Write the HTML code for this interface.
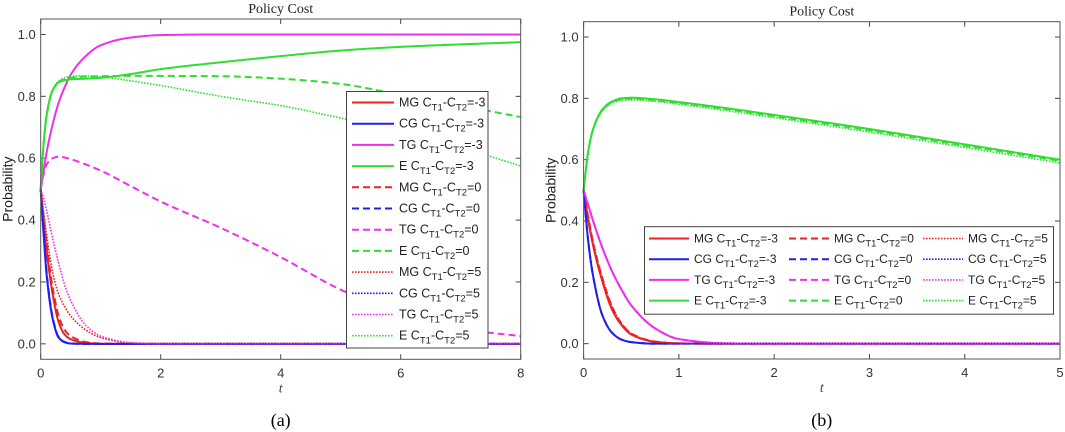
<!DOCTYPE html>
<html><head><meta charset="utf-8">
<style>
html,body{margin:0;padding:0;background:#fff;}
svg{display:block;font-family:"Liberation Sans",sans-serif;}
.tk{font-size:13px;fill:#333;}
.ttl{font-family:"Liberation Serif",serif;font-size:14px;fill:#222;}
.lg{font-size:12.5px;fill:#222;}
.lgb{font-size:12px;fill:#222;}
</style></head><body>
<svg id="chart" width="1065" height="432" viewBox="0 0 1065 432"></svg>
<script>
// Panel (a) data
const tA = [0,0.05,0.1,0.2,0.3,0.4,0.5,0.75,1,1.5,2,3,4,5,6,7,8];
const aMGm3 = [0.5,0.4,0.3,0.16,0.07,0.03,0.015,0.003,0,0,0,0,0,0,0,0,0];
const aCGm3 = [0.5,0.35,0.22,0.08,0.02,0.005,0.001,0,0,0,0,0,0,0,0,0,0];
const aTGm3 = [0.5,0.56,0.62,0.71,0.78,0.83,0.87,0.93,0.965,0.99,0.998,1,1,1,1,1,1];
const aEm3 = [0.5,0.65,0.74,0.82,0.845,0.852,0.855,0.857,0.86,0.872,0.888,0.91,0.93,0.948,0.96,0.968,0.975];
const aMG0 = [0.5,0.41,0.32,0.18,0.09,0.045,0.025,0.006,0.001,0,0,0,0,0,0,0,0];
const aCG0 = [0.5,0.36,0.23,0.085,0.022,0.006,0.001,0,0,0,0,0,0,0,0,0,0];
const aTG0 = [0.5,0.55,0.58,0.6,0.605,0.602,0.597,0.58,0.56,0.51,0.46,0.375,0.28,0.175,0.095,0.048,0.025];
const aE0 = [0.5,0.65,0.74,0.82,0.845,0.855,0.86,0.864,0.865,0.866,0.866,0.865,0.857,0.84,0.805,0.77,0.733];
const aMG5 = [0.5,0.42,0.35,0.23,0.16,0.12,0.09,0.045,0.02,0.003,0,0,0,0,0,0,0];
const aCG5 = [0.5,0.36,0.23,0.085,0.022,0.006,0.001,0,0,0,0,0,0,0,0,0,0];
const aTG5 = [0.5,0.47,0.43,0.34,0.26,0.19,0.14,0.06,0.025,0.004,0,0,0,0,0,0,0];
const aE5 = [0.5,0.65,0.74,0.82,0.85,0.86,0.865,0.866,0.863,0.85,0.835,0.8,0.77,0.73,0.69,0.635,0.575];
// Panel (b) data
const tB = [0,0.05,0.1,0.2,0.3,0.4,0.5,0.75,1,1.5,2,3,4,5];
const bMGm3 = [0.5,0.4,0.32,0.2,0.11,0.06,0.03,0.006,0.001,0,0,0,0,0];
const bCGm3 = [0.5,0.33,0.22,0.09,0.035,0.013,0.005,0,0,0,0,0,0,0];
const bTGm3 = [0.5,0.45,0.4,0.31,0.235,0.175,0.125,0.05,0.015,0.001,0,0,0,0];
const bEm3 = [0.5,0.63,0.7,0.765,0.79,0.8,0.802,0.797,0.788,0.768,0.746,0.70,0.65,0.60];
const bMG0 = [0.5,0.41,0.33,0.21,0.12,0.065,0.033,0.007,0.001,0,0,0,0,0];
const bCG0 = [0.5,0.33,0.22,0.09,0.035,0.013,0.005,0,0,0,0,0,0,0];
const bTG0 = [0.5,0.45,0.4,0.31,0.235,0.175,0.125,0.05,0.015,0.001,0,0,0,0];
const bE0 = [0.5,0.63,0.7,0.763,0.788,0.797,0.799,0.794,0.785,0.765,0.742,0.696,0.646,0.596];
const bMG5 = [0.5,0.41,0.33,0.21,0.12,0.065,0.033,0.007,0.001,0,0,0,0,0];
const bCG5 = [0.5,0.33,0.22,0.09,0.035,0.013,0.005,0,0,0,0,0,0,0];
const bTG5 = [0.5,0.45,0.4,0.31,0.235,0.175,0.125,0.05,0.015,0.001,0,0,0,0];
const bE5 = [0.5,0.63,0.7,0.76,0.785,0.793,0.795,0.79,0.781,0.76,0.737,0.69,0.64,0.589];
const yTicks = ["0.0","0.2","0.4","0.6","0.8","1.0"];
const xTicksA = ["0","2","4","6","8"];
const xTicksB = ["0","1","2","3","4","5"];
const seriesNames = ["MG","CG","TG","E"];
const costLabels = ["-3","0","5"];

const NS="http://www.w3.org/2000/svg";
const svg=document.getElementById('chart');
const COL={MG:"#ee2020",CG:"#2020ee",TG:"#ee30ee",E:"#30dd30"};
const DASH=[null,"7,4","1.6,1.4"];
const WID=[2,2,1.6];
function mk(tag,attrs,parent){const e=document.createElementNS(NS,tag);for(const k in attrs)e.setAttribute(k,attrs[k]);(parent||svg).appendChild(e);return e;}
// monotone cubic (Fritsch-Carlson) interpolation
function monotone(xs,ys){
  const n=xs.length,d=[],m=new Array(n);
  for(let i=0;i<n-1;i++)d.push((ys[i+1]-ys[i])/(xs[i+1]-xs[i]));
  m[0]=d[0];m[n-1]=d[n-2];
  for(let i=1;i<n-1;i++){
    if(d[i-1]*d[i]<=0)m[i]=0;
    else{const h0=xs[i]-xs[i-1],h1=xs[i+1]-xs[i];const w1=2*h1+h0,w2=h1+2*h0;m[i]=(w1+w2)/(w1/d[i-1]+w2/d[i]);}
  }
  return function(x){
    let i=0;while(i<n-2&&x>xs[i+1])i++;
    const h=xs[i+1]-xs[i],t=(x-xs[i])/h,t2=t*t,t3=t2*t;
    return (2*t3-3*t2+1)*ys[i]+(t3-2*t2+t)*h*m[i]+(-2*t3+3*t2)*ys[i+1]+(t3-t2)*h*m[i+1];
  };
}
function legendText(g,x,y,name,cost,cls){
  const t=mk('text',{x:x,y:y,class:cls},g);
  
  
  const parts=[[name+" C",0],["T1",1],["-C",0],["T2",1],["="+cost,0]];
  parts.forEach(p=>{const s=mk('tspan',{},t);s.textContent=p[0];
    if(p[1]){s.setAttribute('font-size','9.5');s.setAttribute('dy','4');}
    else if(s.previousSibling&&s.previousSibling.getAttribute('dy')==='4'){s.setAttribute('dy','-4');}
  });
}
function panel(cfg){
  const g=mk('g',{});
  
  
  const X=v=>cfg.x0+(v-cfg.xmin)/(cfg.xmax-cfg.xmin)*(cfg.x1-cfg.x0);
  const Y=v=>cfg.yb-(v+0.05)/1.1*(cfg.yb-cfg.yt);
  const bg=mk('rect',{x:cfg.x0,y:cfg.yt,width:cfg.x1-cfg.x0,height:cfg.yb-cfg.yt,fill:'#fff',stroke:'none'},g);
  
  yTicks.forEach(s=>{const v=parseFloat(s),y=Y(v);
    mk('line',{x1:cfg.x0,x2:cfg.x0+5,y1:y,y2:y,stroke:'#444','stroke-width':1},g);
    mk('line',{x1:cfg.x1,x2:cfg.x1-5,y1:y,y2:y,stroke:'#444','stroke-width':1},g);
    const t=mk('text',{x:cfg.x0-5,y:y+4.5,'text-anchor':'end',class:'tk'},g);t.textContent=s;
    });
  cfg.xt.forEach(s=>{const x=X(parseFloat(s));
    mk('line',{x1:x,x2:x,y1:cfg.yb,y2:cfg.yb-5,stroke:'#444','stroke-width':1},g);
    mk('line',{x1:x,x2:x,y1:cfg.yt,y2:cfg.yt+5,stroke:'#444','stroke-width':1},g);
    const t=mk('text',{x:x,y:cfg.yb+18,'text-anchor':'middle',class:'tk'},g);t.textContent=s;
    });
  const lines=mk('g',{},g);
  
  cfg.series.forEach((ser,k)=>{
    const ci=Math.floor(k/4),nm=seriesNames[k%4];
    const f=monotone(cfg.t,ser);
    const N=400;let d="";
    for(let i=0;i<=N;i++){const tv=cfg.xmin+(cfg.xmax-cfg.xmin)*Math.pow(i/N,1.6);
      d+=(i?"L":"M")+X(tv).toFixed(2)+","+Y(f(tv)).toFixed(2);}
    const p=mk('path',{d:d,fill:'none',stroke:COL[nm],'stroke-width':WID[ci],'stroke-linejoin':'round'},lines);
    if(DASH[ci])p.setAttribute('stroke-dasharray',DASH[ci]);
    
    
  });
  const fr=mk('rect',{x:cfg.x0,y:cfg.yt,width:cfg.x1-cfg.x0,height:cfg.yb-cfg.yt,fill:'none',stroke:'#555','stroke-width':1},g);
  
  const tt=mk('text',{x:(cfg.x0+cfg.x1)/2,y:cfg.yt-6,'text-anchor':'middle',class:'ttl'},g);tt.textContent="Policy Cost";
  
  const yl=mk('text',{x:0,y:0,'text-anchor':'middle','font-size':'14',fill:'#222',transform:`translate(${cfg.x0-28},${(cfg.yt+cfg.yb)/2}) rotate(-90)`},g);yl.textContent="Probability";
  
  const xl=mk('text',{x:(cfg.x0+cfg.x1)/2,y:cfg.yb+33,'text-anchor':'middle','font-family':'Liberation Serif,serif','font-style':'italic','font-size':'14',fill:'#444'},g);xl.textContent="t";
  
  const cp=mk('text',{x:(cfg.x0+cfg.x1)/2,y:426,'text-anchor':'middle','font-family':'Liberation Serif,serif','font-size':'18',fill:'#000'},g);cp.textContent=cfg.cap;
  
  const lg=mk('g',{},g);
  
  const L=cfg.leg;
  mk('rect',{x:L.x,y:L.y,width:L.w,height:L.h,fill:'#fff',stroke:'#444','stroke-width':1},lg);
  for(let k=0;k<12;k++){
    const ci=Math.floor(k/4),nm=seriesNames[k%4];
    const col=L.cols?ci:0,row=L.cols?k%4:k;
    const lx=L.lx[col],ly=L.ry0+row*L.rs;
    const e=mk('g',{},lg);
    
    const ln=mk('line',{x1:lx,x2:lx+L.len,y1:ly,y2:ly,stroke:COL[nm],'stroke-width':WID[ci]},e);
    if(DASH[ci])ln.setAttribute('stroke-dasharray',DASH[ci]);
    legendText(e,lx+L.len+5,ly+4,nm,costLabels[ci],L.cls);
  }
}
panel({name:'panel-a',x0:40.7,x1:520.7,yt:19,yb:359.3,xmin:0,xmax:8,t:tA,xt:xTicksA,cap:'(a)',
  series:[aMGm3,aCGm3,aTGm3,aEm3,aMG0,aCG0,aTG0,aE0,aMG5,aCG5,aTG5,aE5],
  leg:{x:346.5,y:91.5,w:141.5,h:256.5,cols:false,lx:[352],len:42,ry0:102.5,rs:21.2,cls:'lg'}});
panel({name:'panel-b',x0:583.6,x1:1060,yt:21.7,yb:359,xmin:0,xmax:5,t:tB,xt:xTicksB,cap:'(b)',
  series:[bMGm3,bCGm3,bTGm3,bEm3,bMG0,bCG0,bTG0,bE0,bMG5,bCG5,bTG5,bE5],
  leg:{x:644.5,y:226.7,w:409,h:87.5,cols:true,lx:[649,789,923],len:40,ry0:238.5,rs:20.7,cls:'lgb'}});
</script>
</body></html>
